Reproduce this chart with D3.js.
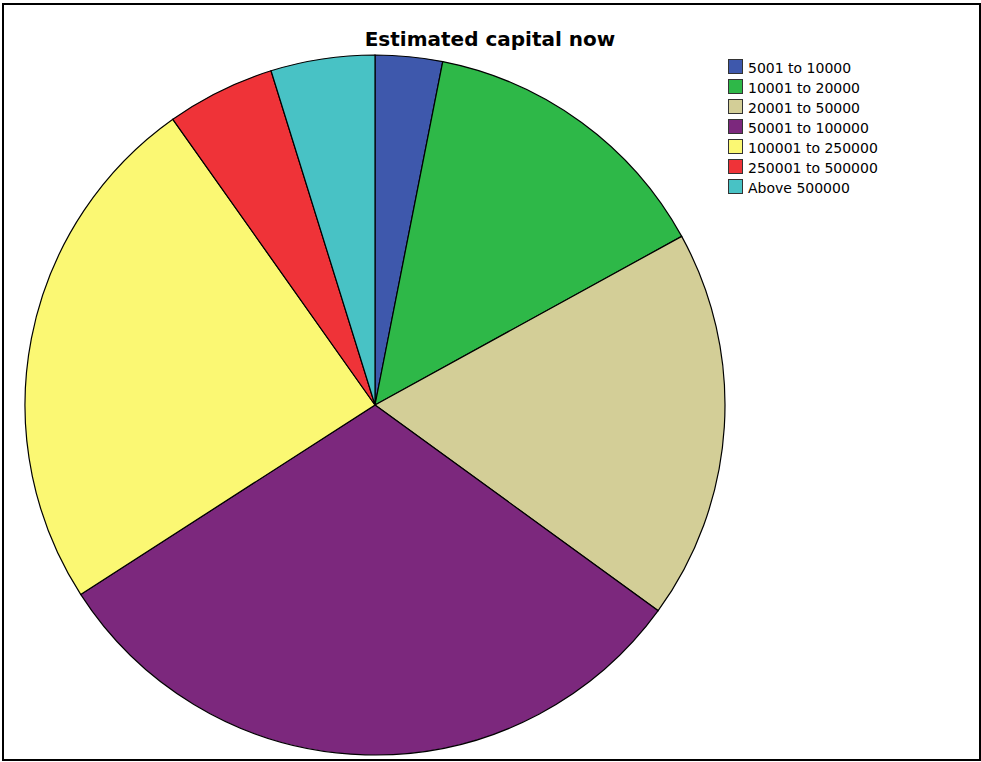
<!DOCTYPE html>
<html>
<head>
<meta charset="utf-8">
<script src="https://cdn.jsdelivr.net/npm/d3@7"></script>
<style>
  body { margin: 0; background: #fff; }
</style>
</head>
<body>
<div id="chart"></div>
<script>
// categories, shares (percent) and colours
const categories = ["5001 to 10000", "10001 to 20000", "20001 to 50000", "50001 to 100000",
                    "100001 to 250000", "250001 to 500000", "Above 500000"];
const shares = [3.1, 13.9, 18.0, 30.9, 24.3, 5.0, 4.8];
const colours = ["#3e58ac", "#2eb848", "#d3ce97", "#7c287d", "#fbf873", "#ef3338", "#48c2c5"];

const width = 981, height = 762;
const cx = 375, cy = 405, radius = 350;

const svg = d3.select("#chart")
    .append("svg")
    .attr("width", width)
    .attr("height", height);

// outer frame
svg.append("rect")
    .attr("x", 3).attr("y", 4)
    .attr("width", 977).attr("height", 756)
    .attr("fill", "none")
    .attr("stroke", "#000")
    .attr("stroke-width", 2);

// title
svg.append("text")
    .attr("x", 490)
    .attr("y", 46)
    .attr("text-anchor", "middle")
    .attr("font-family", "DejaVu Sans")
    .attr("font-weight", "bold")
    .attr("font-size", 20)
    .text("Estimated capital now");

const color = d3.scaleOrdinal().domain(categories).range(colours);

const pie = d3.pie().sort(null).value(d => d.value);
const arc = d3.arc().innerRadius(0).outerRadius(radius);

const data = categories.map((c, i) => ({name: c, value: shares[i]}));

svg.append("g")
    .attr("transform", `translate(${cx},${cy})`)
    .selectAll("path")
    .data(pie(data))
    .join("path")
    .attr("d", arc)
    .attr("fill", d => color(d.data.name))
    .attr("stroke", "#000")
    .attr("stroke-width", 1.2);

// legend
const size = 14, pitch = 20;
const legend = svg.append("g").attr("transform", "translate(728.5,59.5)");

legend.selectAll("rect")
    .data(categories)
    .join("rect")
    .attr("x", 0)
    .attr("y", (d, i) => i * pitch)
    .attr("width", size)
    .attr("height", size)
    .attr("fill", d => color(d))
    .attr("stroke", "#333")
    .attr("stroke-width", 1);

legend.selectAll("text")
    .data(categories)
    .join("text")
    .attr("x", 19.5)
    .attr("y", (d, i) => i * pitch + 13.5)
    .attr("font-family", "DejaVu Sans")
    .attr("font-size", 14)
    .attr("fill", "#000")
    .text(d => d);
</script>
</body>
</html>
